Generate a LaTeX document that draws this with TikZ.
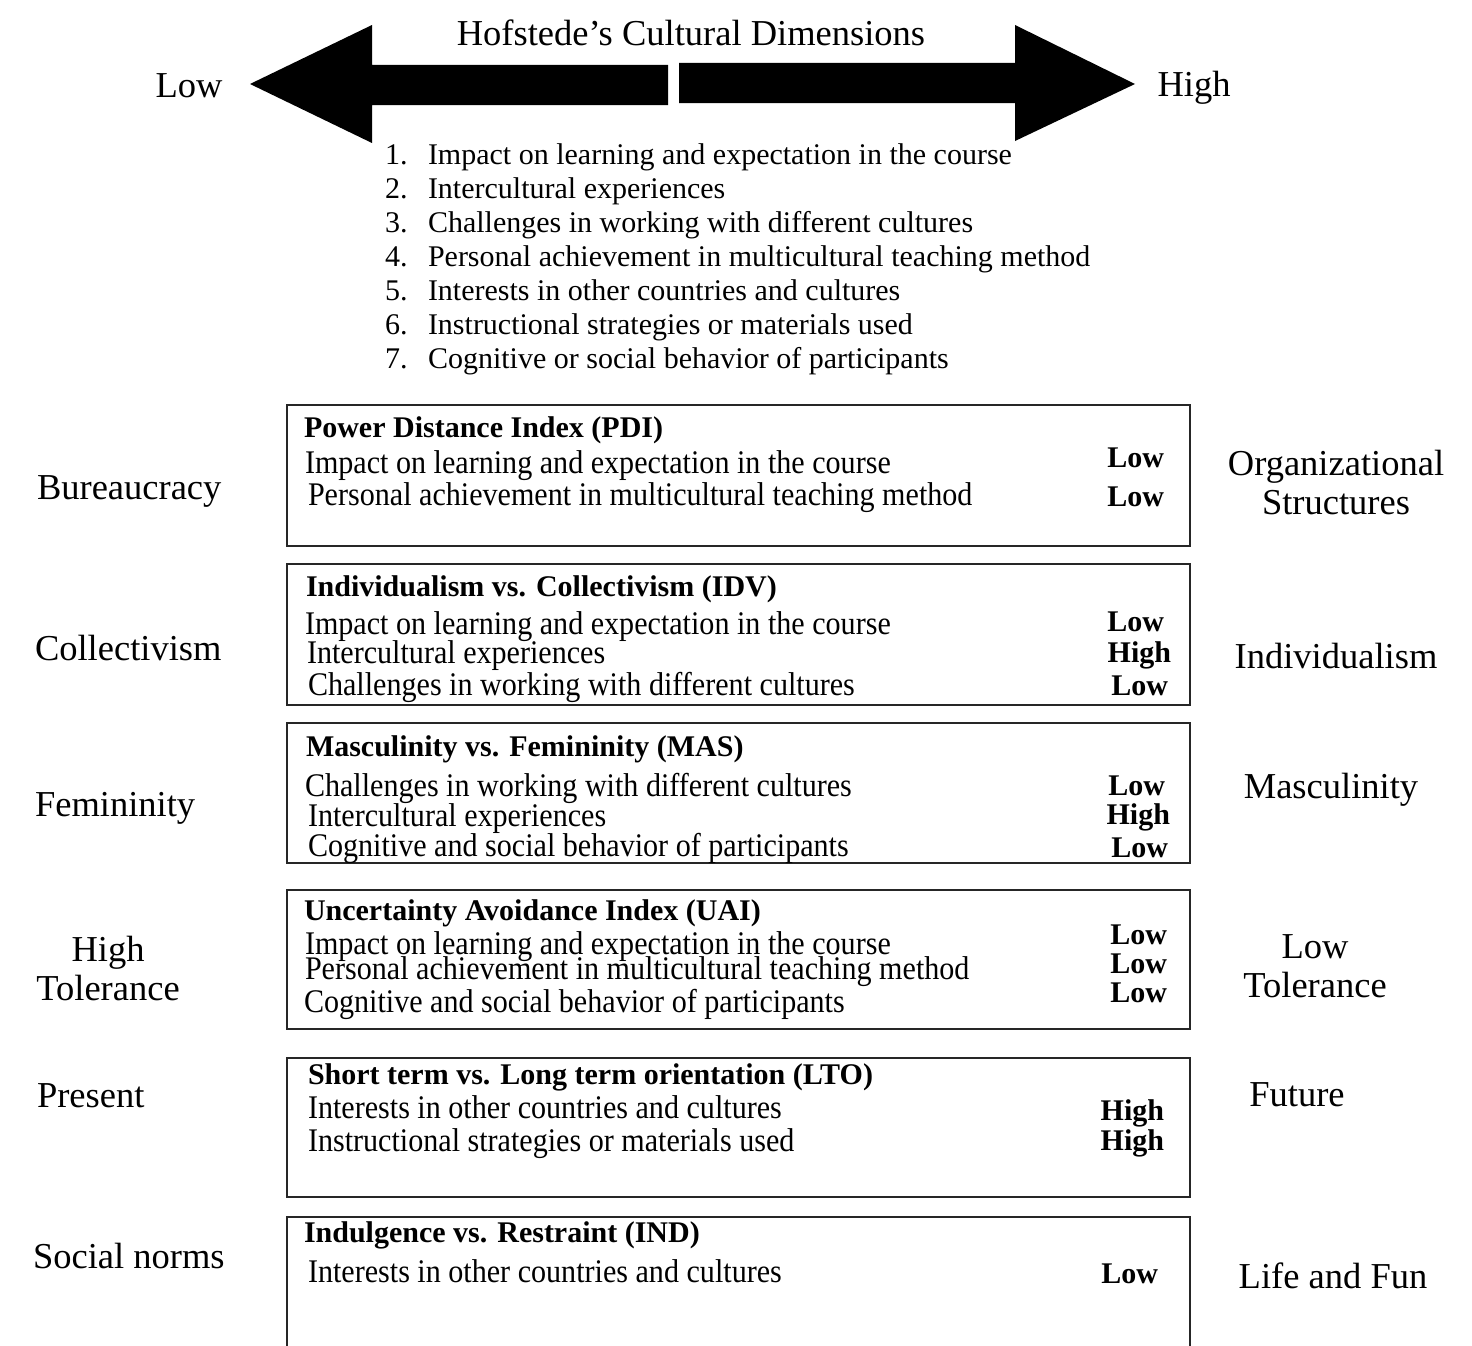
\documentclass[tikz,border=0pt]{standalone}
\usepackage{fontspec}
\setmainfont{Liberation Serif}
\newfontfamily\itemfont[FakeStretch=0.912]{Liberation Serif}
\begin{document}
\begin{tikzpicture}[x=1pt,y=-1pt,
  every node/.style={inner sep=0pt,outer sep=0pt},
  side/.style={font=\fontsize{36.5}{42}\selectfont,align=center},
  ttl/.style={font=\fontsize{36.5}{42}\selectfont},
  lst/.style={font=\fontsize{30}{34}\selectfont,anchor=west,text height=20pt,text depth=5pt},
  head/.style={font=\fontsize{30}{34}\selectfont\bfseries,anchor=west,text height=20pt,text depth=5pt},
  itm/.style={font=\itemfont\fontsize{33}{38}\selectfont,anchor=west,text height=21.5pt,text depth=5.5pt},
  val/.style={font=\fontsize{30}{34}\selectfont\bfseries,anchor=east},
  panel/.style={draw=black!85,line width=2pt},
  arr/.style={fill=black,draw=none}]
\useasboundingbox (0,0) rectangle (1472,1346);
\fill[white] (0,0) rectangle (1472,1346);

% arrows
\fill[arr] (250,84) -- (372,25) -- (372,65) -- (668,65) -- (668,105) -- (372,105) -- (372,143) -- cycle;
\fill[arr] (1135,84) -- (1015,25) -- (1015,63) -- (679,63) -- (679,103) -- (1015,103) -- (1015,141) -- cycle;
\node[ttl] (title) at (691,33) {Hofstede’s Cultural Dimensions};
\node[ttl] (low) at (189,86) {Low};
\node[ttl] (high) at (1194,88) {High};

% list
\foreach \n/\t [count=\i from 0] in {1/Impact on learning and expectation in the course,
  2/Intercultural experiences,
  3/Challenges in working with different cultures,
  4/Personal achievement in multicultural teaching method,
  5/Interests in other countries and cultures,
  6/Instructional strategies or materials used,
  7/Cognitive or social behavior of participants}{
  \node[lst] (num\n) at (385,157+34*\i) {\n.};
  \node[lst] (li\n) at (428,157+34*\i) {\t};
}

% boxes
\draw[panel] (287,405) rectangle (1190,546);
\draw[panel] (287,564) rectangle (1190,705);
\draw[panel] (287,723) rectangle (1190,863);
\draw[panel] (287,890) rectangle (1190,1029);
\draw[panel] (287,1058) rectangle (1190,1197);
\draw[panel] (287,1346) -- (287,1217) -- (1190,1217) -- (1190,1346);

% PDI
\node[head] (h1) at (304,430) {Power Distance Index (PDI)};
\node[itm] (a1) at (305,465) {Impact on learning and expectation in the course};
\node[itm] (a2) at (308,497) {Personal achievement in multicultural teaching method};
\node[val] (v11) at (1164,458) {Low};
\node[val] (v12) at (1164,497) {Low};

% IDV
\node[head] (h2) at (306,589) {Individualism vs. Collectivism (IDV)};
\node[itm] (b1) at (305,626) {Impact on learning and expectation in the course};
\node[itm] (b2) at (307,655) {Intercultural experiences};
\node[itm] (b3) at (308,687) {Challenges in working with different cultures};
\node[val] (v21) at (1164,622) {Low};
\node[val] (v22) at (1171,655) {High};
\node[val] (v23) at (1168,686) {Low};

% MAS
\node[head] (h3) at (306,749) {Masculinity vs. Femininity (MAS)};
\node[itm] (c1) at (305,788) {Challenges in working with different cultures};
\node[itm] (c2) at (308,818) {Intercultural experiences};
\node[itm] (c3) at (308,848) {Cognitive and social behavior of participants};
\node[val] (v31) at (1165,786) {Low};
\node[val] (v32) at (1170,817) {High};
\node[val] (v33) at (1168,848) {Low};

% UAI
\node[head] (h4) at (304,913) {Uncertainty Avoidance Index (UAI)};
\node[itm] (d1) at (305,946) {Impact on learning and expectation in the course};
\node[itm] (d2) at (305,971) {Personal achievement in multicultural teaching method};
\node[itm] (d3) at (304,1004) {Cognitive and social behavior of participants};
\node[val] (v41) at (1167,935) {Low};
\node[val] (v42) at (1167,964) {Low};
\node[val] (v43) at (1167,993) {Low};

% LTO
\node[head] (h5) at (308,1077) {Short term vs. Long term orientation (LTO)};
\node[itm] (e1) at (308,1110) {Interests in other countries and cultures};
\node[itm] (e2) at (308,1143) {Instructional strategies or materials used};
\node[val] (v51) at (1164,1113) {High};
\node[val] (v52) at (1164,1143) {High};

% IND
\node[head] (h6) at (304,1235) {Indulgence vs. Restraint (IND)};
\node[itm] (f1) at (308,1274) {Interests in other countries and cultures};
\node[val] (v61) at (1158,1274) {Low};

% left labels
\node[side,anchor=west] (l1) at (37,491) {Bureaucracy};
\node[side,anchor=west] (l2) at (35,648) {Collectivism};
\node[side,anchor=west] (l3) at (35,808) {Femininity};
\node[side] (l4) at (108,969) {High\\[-3pt]Tolerance};
\node[side,anchor=west] (l5) at (37,1096) {Present};
\node[side,anchor=west] (l6) at (33,1256) {Social norms};

% right labels
\node[side] (r1) at (1336,483) {Organizational\\[-3pt]Structures};
\node[side] (r2) at (1336,656) {Individualism};
\node[side] (r3) at (1331,790) {Masculinity};
\node[side] (r4) at (1315,966) {Low\\[-3pt]Tolerance};
\node[side] (r5) at (1297,1095) {Future};
\node[side] (r6) at (1333,1276) {Life and Fun};
\end{tikzpicture}
\end{document}
